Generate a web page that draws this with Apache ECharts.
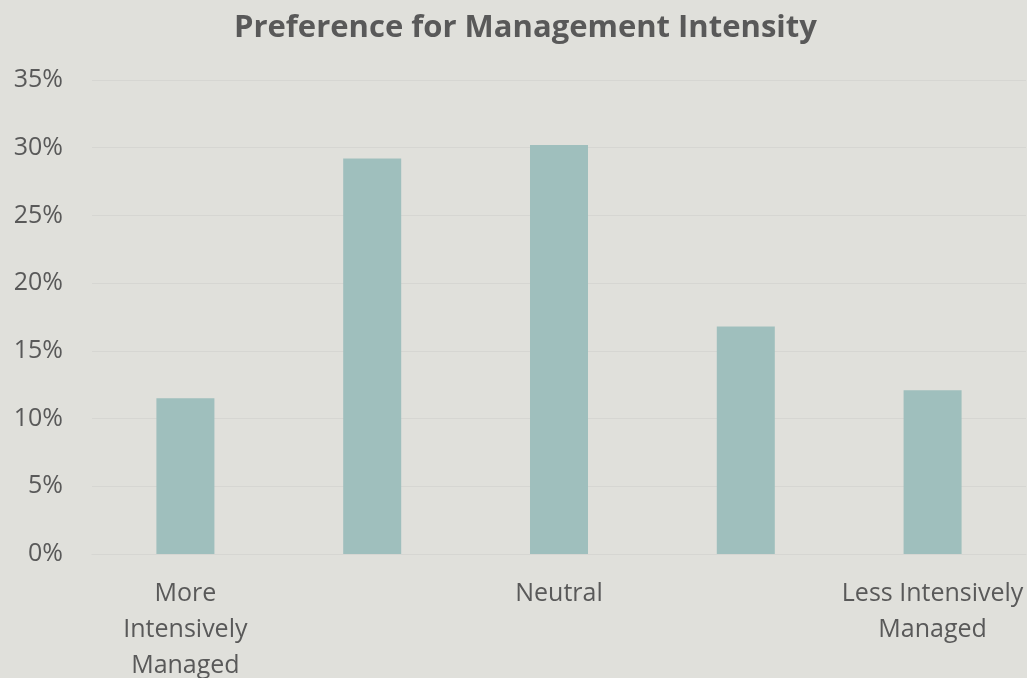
<!DOCTYPE html>
<html>
<head>
<meta charset="utf-8">
<script src="https://cdn.jsdelivr.net/npm/echarts@6/dist/echarts.min.js"></script>
<style>
  html, body { margin: 0; padding: 0; background: #e0e0db; }
  #chart { width: 1027px; height: 678px; }
</style>
</head>
<body>
<div id="chart"></div>
<script>
// categories (blank ones are unlabeled in the original)
var categories = ['More\nIntensively\nManaged', '', 'Neutral', '', 'Less Intensively\nManaged']
// share of respondents, percent
var values = [11.5, 29.2, 30.2, 16.8, 12.1]

var chart = echarts.init(document.getElementById('chart'))
chart.setOption({
    backgroundColor: '#e0e0db',
    textStyle: { fontFamily: 'Open Sans' },
    title: {
        text: 'Preference for Management Intensity',
        left: 229,
        top: 8,
        textStyle: { fontSize: 31, fontWeight: 'bold', color: '#595959', fontFamily: 'Open Sans' }
    },
    grid: {
        left: 92,
        right: 1,
        top: 80,
        bottom: 124,
        outerBoundsMode: 'none'
    },
    xAxis: {
        type: 'category',
        data: categories,
        axisLine: { show: true, lineStyle: { color: '#d6d6d2', width: 1 } },
        axisTick: { show: false },
        axisLabel: {
            color: '#595959',
            fontSize: 25,
            lineHeight: 36,
            margin: 22,
            interval: 0
        }
    },
    yAxis: {
        type: 'value',
        min: 0,
        max: 35,
        interval: 5,
        axisLine: { show: false },
        axisTick: { show: false },
        axisLabel: {
            color: '#595959',
            fontSize: 25,
            margin: 29,
            formatter: '{value}%'
        },
        splitLine: { lineStyle: { color: '#d6d6d2', width: 1 } }
    },
    series: [
        {
            type: 'bar',
            data: values,
            barWidth: 58,
            itemStyle: { color: '#9fbfbd' },
            animation: false
        }
    ]
})
</script>
</body>
</html>
